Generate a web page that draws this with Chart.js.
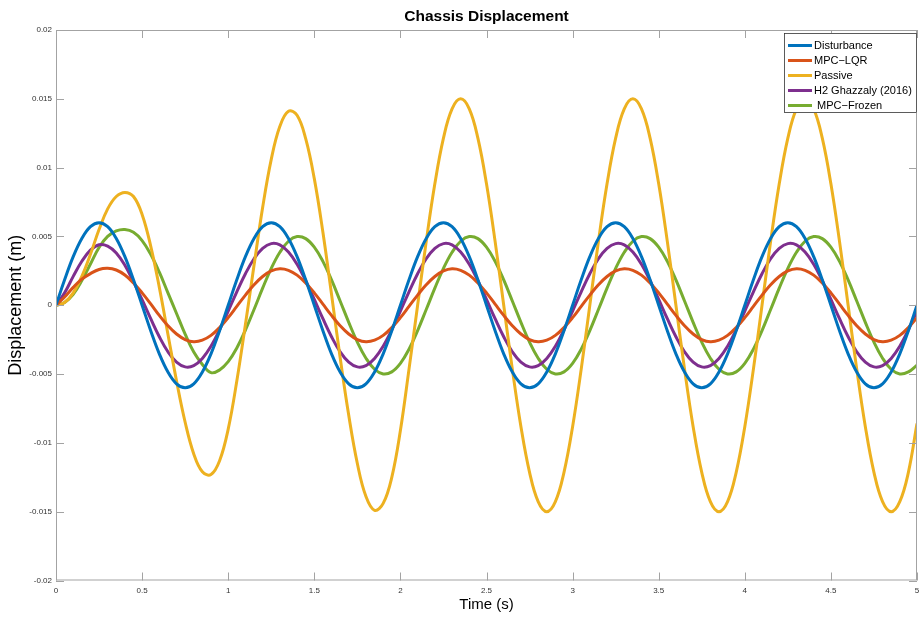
<!DOCTYPE html>
<html>
<head>
<meta charset="utf-8">
<script src="https://cdn.jsdelivr.net/npm/chart.js@4.4.0/dist/chart.umd.min.js"></script>
<style>
html, body { margin: 0; padding: 0; background: #fff; }
#wrap { width: 921px; height: 621px; }
</style>
</head>
<body>
<div id="wrap"><canvas id="grafico" width="921" height="621"></canvas></div>
<script>
// tempo (s)
var tempo = [
  0, 0.05, 0.1, 0.15, 0.2, 0.25, 0.3, 0.35, 0.4, 0.45, 0.5, 0.55, 0.6, 0.65, 0.7, 0.75, 0.8, 0.85, 0.9, 0.95,
  1, 1.05, 1.1, 1.15, 1.2, 1.25, 1.3, 1.35, 1.4, 1.45, 1.5, 1.55, 1.6, 1.65, 1.7, 1.75, 1.8, 1.85, 1.9, 1.95,
  2, 2.05, 2.1, 2.15, 2.2, 2.25, 2.3, 2.35, 2.4, 2.45, 2.5, 2.55, 2.6, 2.65, 2.7, 2.75, 2.8, 2.85, 2.9, 2.95,
  3, 3.05, 3.1, 3.15, 3.2, 3.25, 3.3, 3.35, 3.4, 3.45, 3.5, 3.55, 3.6, 3.65, 3.7, 3.75, 3.8, 3.85, 3.9, 3.95,
  4, 4.05, 4.1, 4.15, 4.2, 4.25, 4.3, 4.35, 4.4, 4.45, 4.5, 4.55, 4.6, 4.65, 4.7, 4.75, 4.8, 4.85, 4.9, 4.95,
  5
];

var disturbance = [
  0, 0.00185, 0.00353, 0.00485, 0.00571, 0.006, 0.00571, 0.00485, 0.00353, 0.00185, 0, -0.00185, -0.00353, -0.00485, -0.00571, -0.006, -0.00571, -0.00485, -0.00353, -0.00185,
  0, 0.00185, 0.00353, 0.00485, 0.00571, 0.006, 0.00571, 0.00485, 0.00353, 0.00185, 0, -0.00185, -0.00353, -0.00485, -0.00571, -0.006, -0.00571, -0.00485, -0.00353, -0.00185,
  0, 0.00185, 0.00353, 0.00485, 0.00571, 0.006, 0.00571, 0.00485, 0.00353, 0.00185, 0, -0.00185, -0.00353, -0.00485, -0.00571, -0.006, -0.00571, -0.00485, -0.00353, -0.00185,
  0, 0.00185, 0.00353, 0.00485, 0.00571, 0.006, 0.00571, 0.00485, 0.00353, 0.00185, 0, -0.00185, -0.00353, -0.00485, -0.00571, -0.006, -0.00571, -0.00485, -0.00353, -0.00185,
  0, 0.00185, 0.00353, 0.00485, 0.00571, 0.006, 0.00571, 0.00485, 0.00353, 0.00185, 0, -0.00185, -0.00353, -0.00485, -0.00571, -0.006, -0.00571, -0.00485, -0.00353, -0.00185,
  0
];

var mpcLqr = [
  0, 0.0006, 0.0013, 0.0019, 0.0023, 0.0026, 0.00268, 0.00256, 0.0022, 0.00162, 0.0009, 0.0001, -0.00074, -0.00149, -0.00209, -0.00249, -0.00265, -0.00254, -0.00219, -0.00162,
  -0.0009, -0.00008, 0.00074, 0.00149, 0.00209, 0.00249, 0.00265, 0.00254, 0.00219, 0.00162, 0.0009, 0.00008, -0.00074, -0.00149, -0.00209, -0.00249, -0.00265, -0.00254, -0.00219, -0.00162,
  -0.0009, -0.00008, 0.00074, 0.00149, 0.00209, 0.00249, 0.00265, 0.00254, 0.00219, 0.00162, 0.0009, 0.00008, -0.00074, -0.00149, -0.00209, -0.00249, -0.00265, -0.00254, -0.00219, -0.00162,
  -0.0009, -0.00008, 0.00074, 0.00149, 0.00209, 0.00249, 0.00265, 0.00254, 0.00219, 0.00162, 0.0009, 0.00008, -0.00074, -0.00149, -0.00209, -0.00249, -0.00265, -0.00254, -0.00219, -0.00162,
  -0.0009, -0.00008, 0.00074, 0.00149, 0.00209, 0.00249, 0.00265, 0.00254, 0.00219, 0.00162, 0.0009, 0.00008, -0.00074, -0.00149, -0.00209, -0.00249, -0.00265, -0.00254, -0.00219, -0.00162,
  -0.0009
];

var passive = [
  0, 0.0002, 0.0009, 0.0021, 0.0037, 0.0055, 0.007, 0.0079, 0.0082, 0.0079, 0.0066, 0.0043, 0.0013, -0.0021, -0.0055, -0.0085, -0.0108, -0.0121, -0.0123, -0.0113,
  -0.009, -0.0055, -0.0014, 0.0029, 0.0071, 0.0106, 0.013, 0.0141, 0.0138, 0.0121, 0.0092, 0.0053, 0.0008, -0.0038, -0.008, -0.0115, -0.0139, -0.0149, -0.0144, -0.0125,
  -0.0091, -0.00464, 0, 0.00464, 0.00882, 0.01214, 0.01427, 0.015, 0.01427, 0.01214, 0.00882, 0.00464, 0, -0.00464, -0.00882, -0.01214, -0.01427, -0.015, -0.01427, -0.01214,
  -0.00882, -0.00464, 0, 0.00464, 0.00882, 0.01214, 0.01427, 0.015, 0.01427, 0.01214, 0.00882, 0.00464, 0, -0.00464, -0.00882, -0.01214, -0.01427, -0.015, -0.01427, -0.01214,
  -0.00882, -0.00464, 0, 0.00464, 0.00882, 0.01214, 0.01427, 0.015, 0.01427, 0.01214, 0.00882, 0.00464, 0, -0.00464, -0.00882, -0.01214, -0.01427, -0.015, -0.01427, -0.01214,
  -0.0086
];

var h2Ghazzaly = [
  0, 0.0009, 0.0021, 0.0032, 0.004, 0.0044, 0.0043, 0.0038, 0.0029, 0.0017, 0.0004, -0.00098, -0.00229, -0.00338, -0.00413, -0.00448, -0.00439, -0.00387, -0.00298, -0.00179,
  -0.00042, 0.00098, 0.00229, 0.00338, 0.00413, 0.00448, 0.00439, 0.00387, 0.00298, 0.00179, 0.00042, -0.00098, -0.00229, -0.00338, -0.00413, -0.00448, -0.00439, -0.00387, -0.00298, -0.00179,
  -0.00042, 0.00098, 0.00229, 0.00338, 0.00413, 0.00448, 0.00439, 0.00387, 0.00298, 0.00179, 0.00042, -0.00098, -0.00229, -0.00338, -0.00413, -0.00448, -0.00439, -0.00387, -0.00298, -0.00179,
  -0.00042, 0.00098, 0.00229, 0.00338, 0.00413, 0.00448, 0.00439, 0.00387, 0.00298, 0.00179, 0.00042, -0.00098, -0.00229, -0.00338, -0.00413, -0.00448, -0.00439, -0.00387, -0.00298, -0.00179,
  -0.00042, 0.00098, 0.00229, 0.00338, 0.00413, 0.00448, 0.00439, 0.00387, 0.00298, 0.00179, 0.00042, -0.00098, -0.00229, -0.00338, -0.00413, -0.00448, -0.00439, -0.00387, -0.00298, -0.00179,
  -0.00042
];

var mpcFrozen = [
  0, 0.0002, 0.0008, 0.0018, 0.003, 0.0042, 0.005, 0.0054, 0.0055, 0.0053, 0.0047, 0.0037, 0.0024, 0.0009, -0.0006, -0.0021, -0.0034, -0.0043, -0.0049, -0.0047,
  -0.0041, -0.0031, -0.0018, -0.00031, 0.00124, 0.00268, 0.00385, 0.00465, 0.00499, 0.00484, 0.00422, 0.00319, 0.00184, 0.00031, -0.00124, -0.00268, -0.00385, -0.00465, -0.00499, -0.00484,
  -0.00422, -0.00319, -0.00184, -0.00031, 0.00124, 0.00268, 0.00385, 0.00465, 0.00499, 0.00484, 0.00422, 0.00319, 0.00184, 0.00031, -0.00124, -0.00268, -0.00385, -0.00465, -0.00499, -0.00484,
  -0.00422, -0.00319, -0.00184, -0.00031, 0.00124, 0.00268, 0.00385, 0.00465, 0.00499, 0.00484, 0.00422, 0.00319, 0.00184, 0.00031, -0.00124, -0.00268, -0.00385, -0.00465, -0.00499, -0.00484,
  -0.00422, -0.00319, -0.00184, -0.00031, 0.00124, 0.00268, 0.00385, 0.00465, 0.00499, 0.00484, 0.00422, 0.00319, 0.00184, 0.00031, -0.00124, -0.00268, -0.00385, -0.00465, -0.00499, -0.00484,
  -0.00435
];

var nomes = ['Disturbance', 'MPC\u2212LQR', 'Passive', 'H2 Ghazzaly (2016)', ' MPC\u2212Frozen'];
var cores = ['#0072BD', '#D95319', '#EDB120', '#7E2F8E', '#77AC30'];
var series = [disturbance, mpcLqr, passive, h2Ghazzaly, mpcFrozen];

var xTicks = [0, 0.5, 1, 1.5, 2, 2.5, 3, 3.5, 4, 4.5, 5];
var yTicks = [-0.02, -0.015, -0.01, -0.005, 0, 0.005, 0.01, 0.015, 0.02];

var fonte = '"Liberation Sans", Arial, Helvetica, sans-serif';

var datasets = series.map(function (s, i) {
    return {
        label: nomes[i],
        data: s.map(function (v, j) { return { x: tempo[j], y: v }; }),
        borderColor: cores[i],
        backgroundColor: cores[i],
        borderWidth: 3,
        pointRadius: 0,
        tension: 0.4,
        fill: false
    };
});

// caixa, ticks internos, titulo e legenda no estilo do matlab
var moldura = {
    id: 'moldura',
    afterDatasetsDraw: function (chart) {
        var ctx = chart.ctx;
        var a = chart.chartArea;
        var x = chart.scales.x;
        var y = chart.scales.y;
        ctx.save();
        ctx.strokeStyle = '#a3a3a3';
        ctx.lineWidth = 1;
        ctx.strokeRect(a.left + 0.5, a.top + 0.5, a.right - a.left - 1, a.bottom - a.top - 1);
        ctx.beginPath();
        xTicks.forEach(function (v) {
            var px = Math.round(x.getPixelForValue(v)) + 0.5;
            ctx.moveTo(px, a.bottom); ctx.lineTo(px, a.bottom - 8);
            ctx.moveTo(px, a.top); ctx.lineTo(px, a.top + 8);
        });
        yTicks.forEach(function (v) {
            var py = Math.round(y.getPixelForValue(v)) + 0.5;
            ctx.moveTo(a.left, py); ctx.lineTo(a.left + 8, py);
            ctx.moveTo(a.right, py); ctx.lineTo(a.right - 8, py);
        });
        ctx.stroke();

        // titulo
        ctx.fillStyle = '#000';
        ctx.font = 'bold 15.5px ' + fonte;
        ctx.textAlign = 'center';
        ctx.textBaseline = 'middle';
        ctx.fillText('Chassis Displacement', (a.left + a.right) / 2, 17);

        // legenda
        var lx = a.right - 133, ly = a.top + 3, lw = 133, lh = 80;
        ctx.fillStyle = '#fff';
        ctx.fillRect(lx, ly, lw, lh);
        ctx.strokeStyle = '#333';
        ctx.lineWidth = 0.8;
        ctx.strokeRect(lx + 0.5, ly + 0.5, lw - 1, lh - 1);
        ctx.font = '11px ' + fonte;
        ctx.textAlign = 'left';
        chart.data.datasets.forEach(function (ds, i) {
            var ry = ly + 12.5 + i * 15;
            ctx.strokeStyle = ds.borderColor;
            ctx.lineWidth = 3;
            ctx.beginPath();
            ctx.moveTo(lx + 4, ry);
            ctx.lineTo(lx + 28, ry);
            ctx.stroke();
            ctx.fillStyle = '#000';
            ctx.fillText(ds.label, lx + 30, ry + 0.5);
        });
        ctx.restore();
    }
};

var config = {
    type: 'line',
    data: { datasets: datasets },
    options: {
        responsive: false,
        animation: false,
        devicePixelRatio: 1,
        layout: { padding: { left: 0, right: 4, top: 30, bottom: 0 } },
        plugins: {
            legend: { display: false },
            tooltip: { enabled: false },
            title: { display: false }
        },
        scales: {
            x: {
                type: 'linear',
                min: 0,
                max: 5,
                grid: { display: false, drawTicks: false },
                border: { display: false },
                afterBuildTicks: function (scale) {
                    scale.ticks = xTicks.map(function (v) { return { value: v }; });
                },
                afterFit: function (scale) {
                    scale.height = 40.5;
                    scale.paddingLeft = 0;
                    scale.paddingRight = 0;
                },
                ticks: {
                    padding: 5,
                    maxRotation: 0,
                    color: '#333',
                    font: { family: fonte, size: 8 },
                    callback: function (v) { return String(parseFloat(v.toFixed(3))); }
                },
                title: {
                    display: true,
                    text: 'Time (s)',
                    color: '#000',
                    font: { family: fonte, size: 15 },
                    padding: { top: 0, bottom: 7 }
                }
            },
            y: {
                type: 'linear',
                min: -0.02,
                max: 0.02,
                grid: { display: false, drawTicks: false },
                border: { display: false },
                afterBuildTicks: function (scale) {
                    scale.ticks = yTicks.map(function (v) { return { value: v }; });
                },
                afterFit: function (scale) {
                    scale.width = 56;
                    scale.paddingTop = 0;
                    scale.paddingBottom = 0;
                },
                ticks: {
                    padding: 4,
                    color: '#333',
                    font: { family: fonte, size: 8 },
                    callback: function (v) { return String(parseFloat(v.toFixed(4))); }
                },
                title: {
                    display: true,
                    text: 'Displacement (m)',
                    color: '#000',
                    font: { family: fonte, size: 18 },
                    padding: { top: 5, bottom: 0 }
                }
            }
        }
    },
    plugins: [moldura]
};

const meuGrafico = new Chart(document.getElementById('grafico'), config);
</script>
</body>
</html>
